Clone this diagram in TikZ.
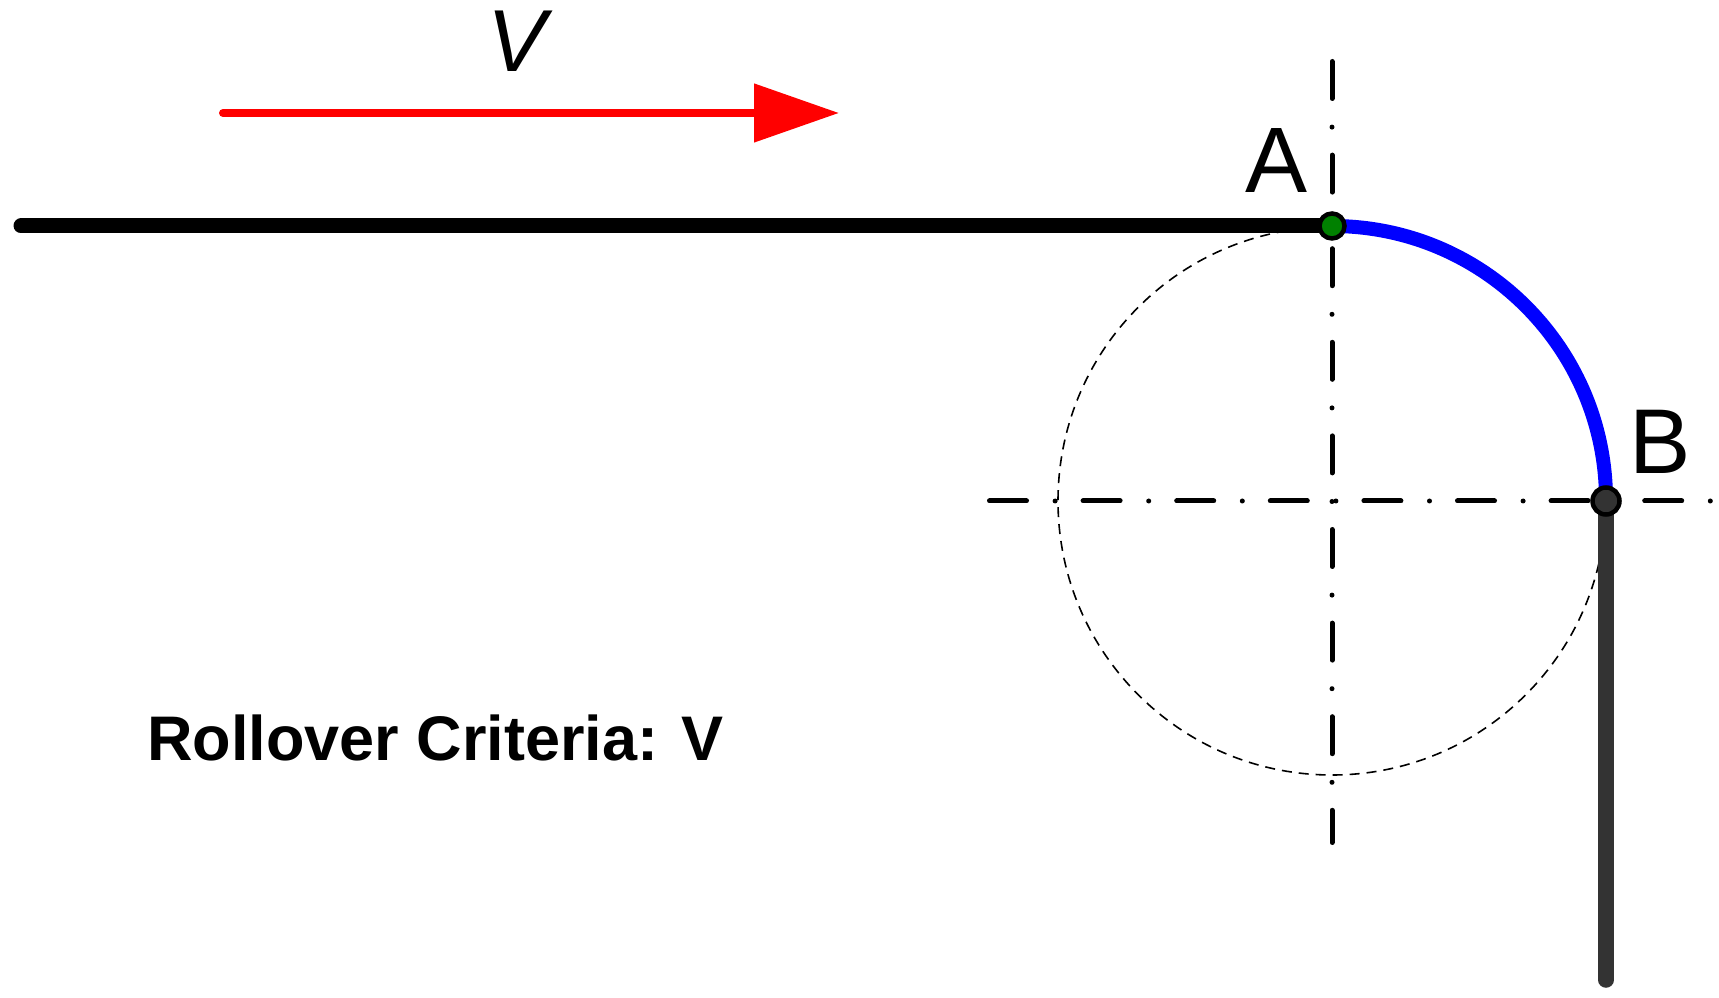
\documentclass[tikz,border=0pt]{standalone}
\usepackage{fontspec}
\setmainfont{Liberation Sans}
\usetikzlibrary{arrows.meta}
\definecolor{ptgreen}{RGB}{0,128,0}
\definecolor{dgray}{RGB}{51,51,51}
\begin{document}
\begin{tikzpicture}[x=1pt,y=1pt,
  axisline/.style={line width=5pt,line cap=round,dash pattern=on 37pt off 28.6pt on 0pt off 28pt},
  guidecircle/.style={line width=1.6pt,dash pattern=on 10pt off 7pt},
  ptmark/.style={circle,draw=black,line width=4.5pt,minimum size=27pt,inner sep=0pt},
  lbl/.style={inner sep=0pt,anchor=base}]
\useasboundingbox (0,0) rectangle (1719,997);
\coordinate (C) at (1332,496);
\coordinate (A) at (1332,771);
\coordinate (B) at (1606,496);
\coordinate (L) at (21,771);
\coordinate (G) at (1606,17);
\coordinate (V1) at (1332,935.5);
\coordinate (V2) at (1332,154.5);
\coordinate (H1) at (989.5,496);
\coordinate (H2) at (1712,496);
\coordinate (R1) at (223,884);
\coordinate (R2) at (839,884);
% dashed guide circle
\draw[guidecircle] (C) circle[radius=274];
% centre lines
\draw[axisline] (V1) -- (V2);
\draw[axisline] (H1) -- (H2);
% track
\draw[line width=15pt,line cap=round] (L) -- (A);
\draw[blue,line width=14pt] (A) arc[start angle=90,end angle=0,radius=274];
\draw[dgray,line width=15.5pt,line cap=round] (B) -- (G);
% points
\node[ptmark,fill=ptgreen,minimum size=25pt] (pA) at (A) {};
\node[ptmark,fill=dgray] (pB) at (B) {};
% velocity arrow
\draw[red,line width=8pt,line cap=round,-{Triangle[length=85pt,width=57pt]}] (R1) -- (R2);
% labels
\node[lbl,font=\fontsize{88}{96}\selectfont\itshape] (lV) at (517,925) {V};
\node[lbl,font=\fontsize{93}{100}\selectfont] (lA) at (1277,804) {A};
\node[lbl,font=\fontsize{92}{100}\selectfont] (lB) at (1660,523) {B};
\node[inner sep=0pt,anchor=base west,font=\fontsize{63}{70}\selectfont\bfseries] (crit) at (147,237) {Rollover Criteria: V};
\end{tikzpicture}
\end{document}
